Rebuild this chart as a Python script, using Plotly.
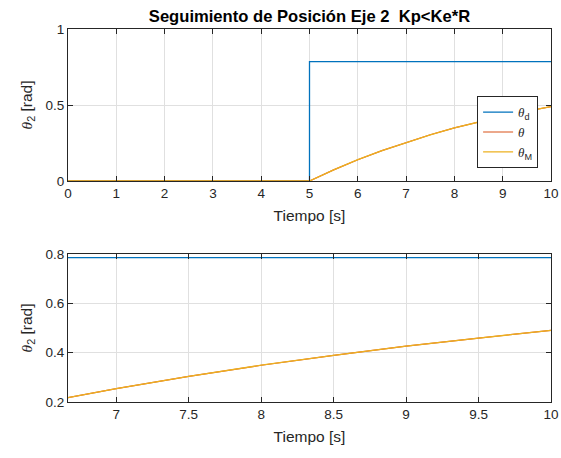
import plotly.graph_objects as go
from plotly.subplots import make_subplots

# Reference (step) signal
t_ref = [0, 5, 5, 10]
theta_d = [0, 0, 0.785, 0.785]

# Response
t_resp = [0, 5, 5.5, 6, 6.5, 7, 7.5, 8, 8.5, 9, 9.5, 10]
theta = [0, 0, 0.073, 0.140, 0.200, 0.254, 0.304, 0.349, 0.389, 0.426, 0.459, 0.490]
theta_m = [0, 0, 0.073, 0.140, 0.200, 0.254, 0.304, 0.349, 0.389, 0.426, 0.459, 0.490]

top_xticks = list(range(0, 11))
top_yticks = [0, 0.5, 1]
bot_xticks = [7, 7.5, 8, 8.5, 9, 9.5, 10]
bot_yticks = [0.2, 0.4, 0.6, 0.8]

BLUE = "#0072BD"
RED = "#D95319"
YEL = "#EDB120"
AX = "#262626"
GRID = "#e0e0e0"
FONT = "Liberation Sans, Arial, sans-serif"
TH = '<span style="font-family:Liberation Serif, serif"><i>θ</i></span>'

fig = make_subplots(rows=2, cols=1, vertical_spacing=0.0)

for row, show in [(1, True), (2, False)]:
    fig.add_trace(go.Scatter(x=t_ref, y=theta_d, mode="lines", line=dict(color=BLUE, width=1.3),
                             name=TH + "<sub>d</sub>", showlegend=show), row=row, col=1)
    fig.add_trace(go.Scatter(x=t_resp, y=theta, mode="lines", line=dict(color=RED, width=1.2),
                             name=TH, showlegend=show), row=row, col=1)
    fig.add_trace(go.Scatter(x=t_resp, y=theta_m, mode="lines", line=dict(color=YEL, width=1.3),
                             name=TH + "<sub>M</sub>", showlegend=show), row=row, col=1)

axcommon = dict(showline=True, linecolor=AX, linewidth=1, mirror="ticks", ticks="inside",
                ticklen=5, tickcolor=AX, showgrid=True, gridcolor=GRID, gridwidth=1,
                zeroline=False, automargin=False, tickfont=dict(size=13.5, color=AX, family=FONT))
xtitle = dict(text="Tiempo [s]", font=dict(size=15.5, color=AX, family=FONT), standoff=9.5)
ytitle = dict(text=TH + "<sub>2</sub> [rad]", font=dict(size=15.5, color=AX, family=FONT), standoff=9)

fig.update_xaxes(**axcommon)
fig.update_yaxes(**axcommon)

fig.update_xaxes(range=[0, 10], tickvals=top_xticks, domain=[0, 1], row=1, col=1, title=xtitle)
fig.update_yaxes(range=[0, 1], tickvals=top_yticks, ticktext=["0", "0.5", "1"], domain=[0.5925, 1],
                 row=1, col=1, title=ytitle)
fig.update_xaxes(range=[6.6667, 10], tickvals=bot_xticks, domain=[0, 1], row=2, col=1, title=xtitle)
fig.update_yaxes(range=[0.2, 0.8], tickvals=bot_yticks, domain=[0, 0.397], row=2, col=1, title=ytitle)

fig.update_layout(
    width=561, height=458,
    margin=dict(l=68, r=10, t=29, b=56, autoexpand=False),
    paper_bgcolor="white", plot_bgcolor="white",
    font=dict(family=FONT, color=AX),
    title=dict(text="<b>Seguimiento de Posición Eje 2  Kp&lt;Ke*R</b>", x=0.5, xref="paper",
               y=1 - 16 / 458, yanchor="middle", font=dict(size=16.6, color="black", family=FONT)),
    legend=dict(x=0.847, y=0.82, xanchor="left", yanchor="top", bgcolor="white",
                bordercolor=AX, borderwidth=1, font=dict(size=13, color=AX, family=FONT),
                tracegroupgap=0, itemwidth=30),
    showlegend=True,
)

fig.write_html(
    "out.html",
    config={"displayModeBar": False},
    post_script="document.body.style.margin='0';document.body.style.overflow='hidden';",
)
